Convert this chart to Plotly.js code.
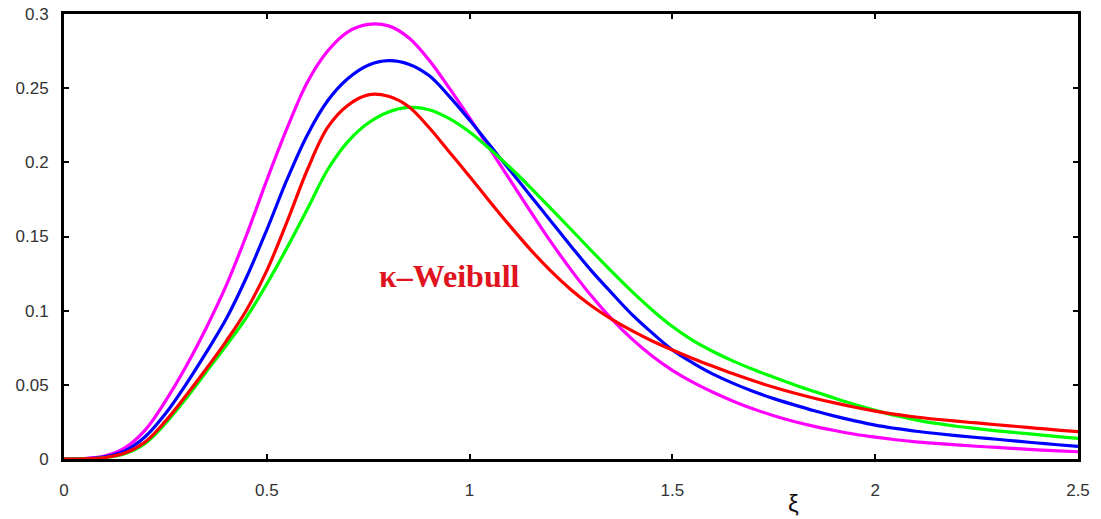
<!DOCTYPE html>
<html>
<head>
<meta charset="utf-8">
<script src="https://cdn.plot.ly/plotly-3.0.1.min.js"></script>
<style>html,body{margin:0;padding:0;background:#fff;}#chart{width:1101px;height:519px;}</style>
</head>
<body>
<div id="chart"></div>
<script>
// Shared xi grid for all four curves
const xi = [0, 0.05, 0.10, 0.15, 0.20, 0.25, 0.30, 0.35, 0.40, 0.45, 0.50, 0.55, 0.60, 0.65, 0.70, 0.75, 0.80, 0.85, 0.90, 0.95,
            1.00, 1.05, 1.10, 1.15, 1.20, 1.25, 1.30, 1.35, 1.40, 1.45, 1.50, 1.55, 1.60, 1.65, 1.70, 1.75, 1.80, 1.85, 1.90, 1.95,
            2.00, 2.05, 2.10, 2.15, 2.20, 2.25, 2.30, 2.35, 2.40, 2.45, 2.50];
// Magenta curve
const magentaY = [0, 0.0003, 0.002, 0.0075, 0.0195, 0.039, 0.062, 0.088, 0.117, 0.151, 0.188, 0.223, 0.254, 0.275, 0.288, 0.293, 0.292, 0.284, 0.269, 0.250,
                  0.230, 0.209, 0.188, 0.167, 0.1465, 0.1275, 0.110, 0.0945, 0.081, 0.0695, 0.0598, 0.0518, 0.0450, 0.0390, 0.0337, 0.0292, 0.0253, 0.0220, 0.0192, 0.0167,
                  0.0147, 0.0130, 0.0116, 0.0105, 0.0095, 0.0086, 0.0078, 0.0070, 0.0062, 0.0055, 0.0049];
// Blue curve
const blueY = [0, 0.0002, 0.0015, 0.0055, 0.015, 0.0305, 0.050, 0.0715, 0.0945, 0.1225, 0.1545, 0.1885, 0.2185, 0.2415, 0.2565, 0.2655, 0.2686, 0.2662, 0.2585, 0.2445,
               0.2285, 0.2115, 0.1945, 0.1775, 0.1605, 0.1435, 0.127, 0.112, 0.0975, 0.085, 0.0735, 0.0648, 0.0572, 0.0510, 0.0455, 0.0407, 0.0365, 0.0325, 0.0289, 0.0257,
               0.0228, 0.0206, 0.0187, 0.0172, 0.0158, 0.0145, 0.0133, 0.0120, 0.0108, 0.0096, 0.0085];
// Red curve
const redY = [0, 0.0001, 0.001, 0.004, 0.0115, 0.0255, 0.0425, 0.0605, 0.0795, 0.1005, 0.127, 0.160, 0.195, 0.2235, 0.2385, 0.2455, 0.2445, 0.2375, 0.2235, 0.207,
              0.1905, 0.1735, 0.157, 0.1412, 0.1268, 0.1141, 0.1033, 0.0943, 0.0865, 0.0796, 0.0735, 0.0678, 0.0625, 0.0574, 0.0527, 0.0484, 0.0445, 0.041, 0.0378, 0.0349,
              0.0323, 0.0301, 0.0283, 0.0268, 0.0255, 0.0243, 0.0231, 0.0219, 0.0207, 0.0195, 0.0184];
// Green curve
const greenY = [0, 0.0001, 0.0008, 0.0035, 0.0105, 0.024, 0.0405, 0.0585, 0.0765, 0.0955, 0.118, 0.1425, 0.1685, 0.195, 0.214, 0.2265, 0.234, 0.237, 0.2355, 0.2295,
                0.2205, 0.209, 0.1965, 0.183, 0.169, 0.1548, 0.1405, 0.1265, 0.113, 0.1005, 0.0893, 0.0800, 0.0725, 0.0660, 0.0603, 0.0551, 0.0501, 0.0455, 0.041, 0.0367,
                0.0328, 0.0293, 0.0264, 0.0240, 0.0221, 0.0205, 0.0190, 0.0177, 0.0164, 0.0151, 0.0139];

const xTicks = [0, 0.5, 1, 1.5, 2, 2.5];
const xTickLabels = ['0', '0.5', '1', '1.5', '2', '2.5'];
const yTicks = [0, 0.05, 0.1, 0.15, 0.2, 0.25, 0.3];
const yTickLabels = ['0', '0.05', '0.1', '0.15', '0.2', '0.25', '0.3'];

function tr(y, color) {
  return {x: xi, y: y, type: 'scatter', mode: 'lines',
    line: {color: color, width: 3.2, shape: 'spline', smoothing: 1}, hoverinfo: 'skip'};
}

const data = [
  tr(magentaY, '#ff00ff'),
  tr(blueY, '#0000ff'),
  tr(greenY, '#00ff00'),
  tr(redY, '#ff0000')
];

const axisCommon = {
  showline: true, linecolor: '#000', linewidth: 3, mirror: 'ticks',
  ticks: 'inside', ticklen: 5, tickwidth: 2, tickcolor: '#000',
  showgrid: false, zeroline: false,
  tickfont: {family: 'Liberation Sans, Arial, sans-serif', size: 17, color: '#333'}
};

const layout = {
  width: 1101, height: 519,
  margin: {l: 64, r: 23, t: 14, b: 60},
  paper_bgcolor: '#fff', plot_bgcolor: '#fff',
  showlegend: false,
  xaxis: Object.assign({}, axisCommon, {range: [0, 2.5], tickvals: xTicks, ticktext: xTickLabels, ticklabelstandoff: 14}),
  yaxis: Object.assign({}, axisCommon, {range: [0, 0.3], tickvals: yTicks, ticktext: yTickLabels, ticklabelstandoff: 9}),
  annotations: [
    {text: 'ξ', xref: 'paper', yref: 'paper', x: (793 - 64) / 1014, y: -0.1, yanchor: 'middle', xanchor: 'center', showarrow: false,
     font: {family: 'Liberation Sans, Arial, sans-serif', size: 24, color: '#111'}},
    {text: '<b>κ–Weibull</b>', xref: 'x', yref: 'y', x: 0.95, y: 0.1234, xanchor: 'center', yanchor: 'middle', showarrow: false,
     font: {family: 'Liberation Serif, Times New Roman, serif', size: 32, color: '#e0141e'}}
  ]
};

Plotly.newPlot('chart', data, layout, {displayModeBar: false, staticPlot: true});
</script>
</body>
</html>
